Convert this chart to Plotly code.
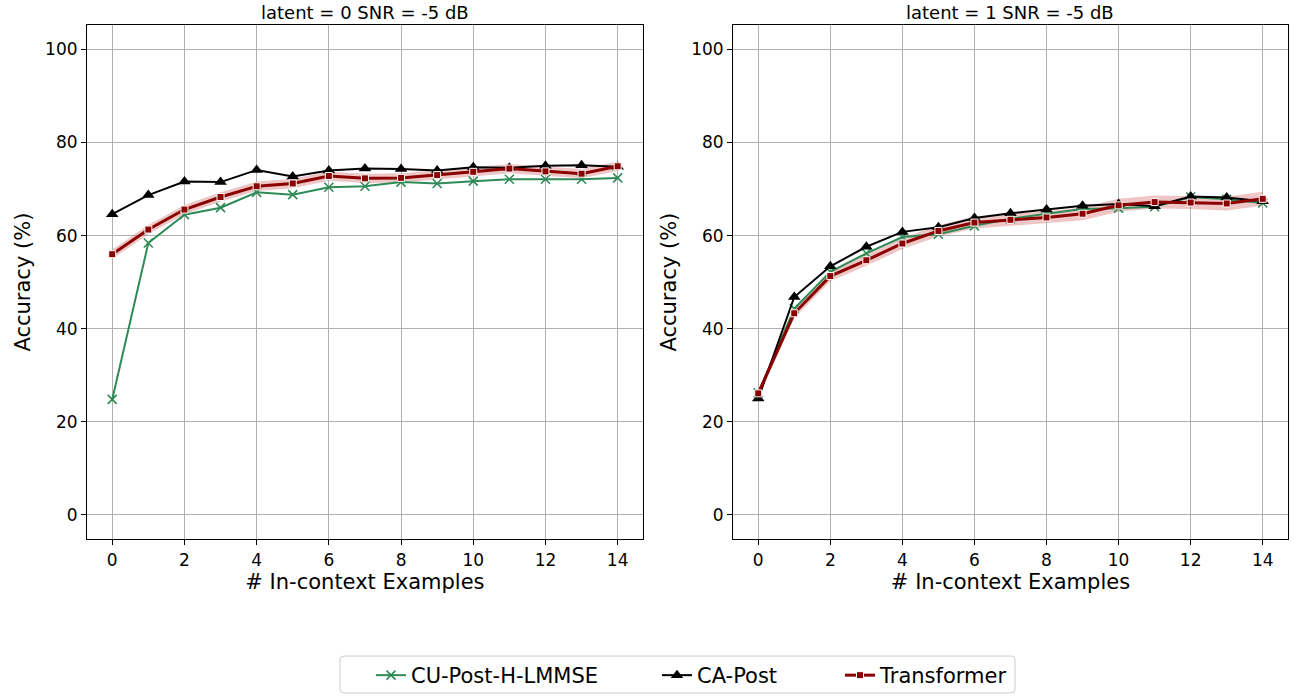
import plotly.graph_objects as go

# In-context example counts
shots = list(range(15))

# latent = 0, SNR = -5 dB
cu_post_l0 = [24.8, 58.4, 64.5, 66.0, 69.3, 68.8, 70.4, 70.6, 71.5, 71.2, 71.7, 72.1, 72.1, 72.1, 72.4]
ca_post_l0 = [64.6, 68.7, 71.6, 71.5, 74.1, 72.7, 74.0, 74.4, 74.3, 74.0, 74.7, 74.6, 75.0, 75.1, 74.8]
transformer_l0 = [56.0, 61.3, 65.6, 68.3, 70.6, 71.2, 72.8, 72.3, 72.4, 73.0, 73.7, 74.4, 73.8, 73.3, 74.9]
transformer_l0_std = [1.0, 1.0, 1.0, 1.0, 1.0, 1.0, 1.0, 1.0, 1.0, 1.0, 1.0, 1.0, 1.0, 1.0, 1.0]

# latent = 1, SNR = -5 dB
cu_post_l1 = [26.2, 44.3, 52.2, 56.2, 59.7, 60.3, 62.1, 63.6, 64.7, 65.7, 65.9, 66.2, 68.3, 67.8, 67.0]
ca_post_l1 = [25.0, 46.8, 53.4, 57.6, 60.8, 61.8, 63.8, 64.8, 65.6, 66.4, 66.8, 66.3, 68.4, 68.2, 67.4]
transformer_l1 = [26.1, 43.3, 51.3, 54.7, 58.3, 61.0, 62.8, 63.4, 63.9, 64.7, 66.5, 67.2, 67.1, 66.9, 67.9]
transformer_l1_std = [0.8, 1.0, 1.1, 1.2, 1.2, 1.2, 1.3, 1.3, 1.3, 1.4, 1.4, 1.4, 1.4, 1.5, 1.5]

titles = ["latent = 0 SNR = -5 dB", "latent = 1 SNR = -5 dB"]

GREEN = "#2e8b57"
BLACK = "#000000"
RED = "#8b0000"
BAND = "rgba(205,92,92,0.35)"
FONT = "DejaVu Sans"
W, H = 1296, 696

panels = [
    (cu_post_l0, ca_post_l0, transformer_l0, transformer_l0_std),
    (cu_post_l1, ca_post_l1, transformer_l1, transformer_l1_std),
]

fig = go.Figure()

for i, (cu, ca, tr, sd) in enumerate(panels):
    xa = "x" if i == 0 else "x2"
    ya = "y" if i == 0 else "y2"
    show = i == 0
    upper = [m + s for m, s in zip(tr, sd)]
    lower = [m - s for m, s in zip(tr, sd)]
    fig.add_trace(go.Scatter(x=shots, y=upper, xaxis=xa, yaxis=ya, mode="lines",
                             line=dict(width=0), showlegend=False, hoverinfo="skip"))
    fig.add_trace(go.Scatter(x=shots, y=lower, xaxis=xa, yaxis=ya, mode="lines",
                             line=dict(width=0), fill="tonexty", fillcolor=BAND,
                             showlegend=False, hoverinfo="skip"))
    fig.add_trace(go.Scatter(x=shots, y=cu, xaxis=xa, yaxis=ya, mode="lines+markers",
                             name="CU-Post-H-LMMSE", legend="legend", showlegend=show,
                             line=dict(color=GREEN, width=2),
                             marker=dict(symbol="x-thin", size=9, line=dict(color=GREEN, width=1.6))))
    fig.add_trace(go.Scatter(x=shots, y=ca, xaxis=xa, yaxis=ya, mode="lines+markers",
                             name="CA-Post", legend="legend2", showlegend=show,
                             line=dict(color=BLACK, width=2),
                             marker=dict(symbol="triangle-up", size=11, color=BLACK)))
    fig.add_trace(go.Scatter(x=shots, y=tr, xaxis=xa, yaxis=ya, mode="lines+markers",
                             name="Transformer", legend="legend3", showlegend=show,
                             line=dict(color=RED, width=3),
                             marker=dict(symbol="square", size=7, color=RED,
                                         line=dict(color="white", width=1))))

axis_common = dict(
    showline=True, linecolor="black", linewidth=1, mirror=True,
    ticks="outside", ticklen=5, tickcolor="black",
    showgrid=True, gridcolor="#b0b0b0", gridwidth=1, zeroline=False,
    tickfont=dict(family=FONT, size=17, color="black"),
)
xaxis_cfg = dict(axis_common, range=[-0.7, 14.7], tickmode="linear", tick0=0, dtick=2,
                 title=dict(text="# In-context Examples", font=dict(family=FONT, size=21, color="black"),
                            standoff=4))
yaxis_cfg = dict(axis_common, range=[-5.25, 105.25], tickmode="linear", tick0=0, dtick=20,
                 title=dict(text="Accuracy (%)", font=dict(family=FONT, size=21, color="black"),
                            standoff=8))

legend_font = dict(family=FONT, size=21, color="black")


def legend_at(px_left):
    return dict(orientation="h", x=px_left / W, xanchor="left", y=1 - 676 / H, yanchor="middle",
                borderwidth=0, bgcolor="rgba(0,0,0,0)", font=legend_font)


dom_l = [0.0671, 0.4961]
dom_r = [0.5656, 0.9938]

fig.update_layout(
    width=W, height=H,
    margin=dict(l=0, r=0, t=0, b=0),
    paper_bgcolor="white", plot_bgcolor="white",
    font=dict(family=FONT, color="black"),
    xaxis=dict(xaxis_cfg, domain=dom_l, anchor="y"),
    yaxis=dict(yaxis_cfg, domain=[0.2241, 0.964], anchor="x"),
    xaxis2=dict(xaxis_cfg, domain=dom_r, anchor="y2"),
    yaxis2=dict(yaxis_cfg, domain=[0.2241, 0.964], anchor="x2"),
    legend=legend_at(371),
    legend2=legend_at(657),
    legend3=legend_at(840),
    showlegend=True,
)

# Shared frame around the three legend entries (rounded corners)
x0, x1 = 340 / W, 1015 / W
y0, y1 = 1 - 694 / H, 1 - 657 / H
rx, ry = 4 / W, 4 / H
frame = (f"M {x0 + rx} {y0} L {x1 - rx} {y0} Q {x1} {y0} {x1} {y0 + ry} "
         f"L {x1} {y1 - ry} Q {x1} {y1} {x1 - rx} {y1} "
         f"L {x0 + rx} {y1} Q {x0} {y1} {x0} {y1 - ry} "
         f"L {x0} {y0 + ry} Q {x0} {y0} {x0 + rx} {y0} Z")
fig.add_shape(type="path", path=frame, xref="paper", yref="paper",
              line=dict(color="#cccccc", width=1), fillcolor="rgba(255,255,255,0.8)", layer="below")

for dom, t in zip([dom_l, dom_r], titles):
    fig.add_annotation(text=t, x=(dom[0] + dom[1]) / 2, xref="paper", xanchor="center",
                       y=0.964, yref="paper", yanchor="bottom", yshift=0, showarrow=False,
                       font=dict(family=FONT, size=18, color="black"))

fig.write_html("out.html")
